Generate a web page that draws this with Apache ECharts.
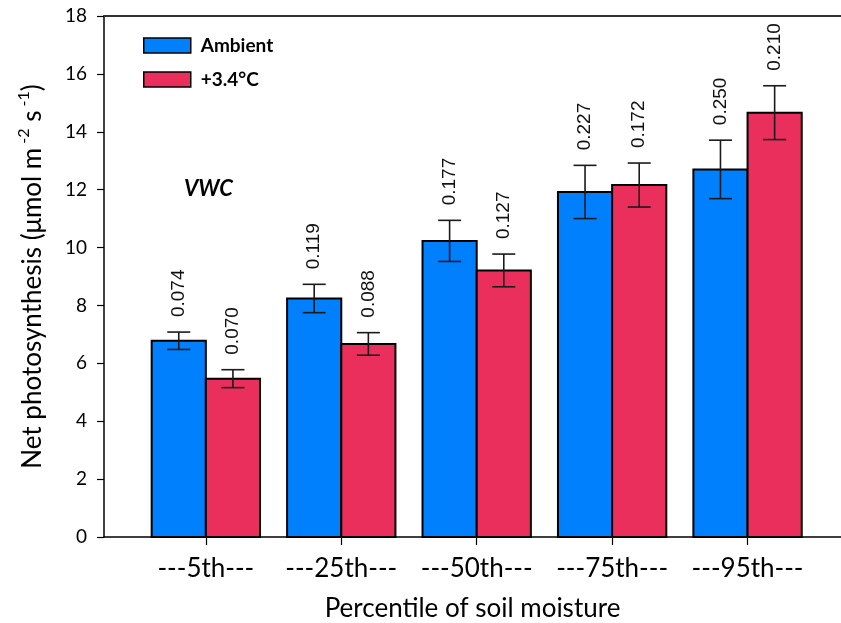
<!DOCTYPE html>
<html>
<head>
<meta charset="utf-8">
<script src="https://cdn.jsdelivr.net/npm/echarts@6/dist/echarts.min.js"></script>
<style>html,body{margin:0;padding:0;background:#fff;overflow:hidden}#c{width:841px;height:623px}</style>
</head>
<body>
<div id="c"></div>
<script>
const categories = ['---5th---', '---25th---', '---50th---', '---75th---', '---95th---'];
const seriesNames = ['Ambient', '+3.4°C'];
const ambient = [6.78, 8.24, 10.23, 11.92, 12.70];
const ambientErr = [0.30, 0.49, 0.71, 0.92, 1.01];
const warm = [5.47, 6.67, 9.21, 12.16, 14.66];
const warmErr = [0.31, 0.39, 0.565, 0.76, 0.93];
const ambientVWC = ['0.074', '0.119', '0.177', '0.227', '0.250'];
const warmVWC = ['0.070', '0.088', '0.127', '0.172', '0.210'];
const yTicks = [0, 2, 4, 6, 8, 10, 12, 14, 16, 18];

const BLUE = '#0180FE';
const RED = '#EB2F5D';
const BW = 0.4; // bar width in category units
const CALIBRI = 'Lato';

function makeRender(side, labels) {
  return function (params, api) {
    const i = api.value(0), v = api.value(1), e = api.value(2);
    const xL = side < 0 ? i - BW : i;
    const xR = side < 0 ? i : i + BW;
    const p0 = api.coord([xL, 0]);
    const p1 = api.coord([xR, v]);
    const cx = (p0[0] + p1[0]) / 2;
    const pTop = api.coord([i, v + e]);
    const pBot = api.coord([i, v - e]);
    const cap = 11.5;
    const errStyle = { stroke: '#1a1a1a', lineWidth: 1.6 };
    return {
      type: 'group',
      children: [
        { type: 'rect', shape: { x: p0[0], y: p1[1], width: p1[0] - p0[0], height: p0[1] - p1[1] },
          style: { fill: api.visual('color'), stroke: '#000', lineWidth: 2 } },
        { type: 'line', shape: { x1: cx, y1: pTop[1], x2: cx, y2: pBot[1] }, style: errStyle },
        { type: 'line', shape: { x1: cx - cap, y1: pTop[1], x2: cx + cap, y2: pTop[1] }, style: errStyle },
        { type: 'line', shape: { x1: cx - cap, y1: pBot[1], x2: cx + cap, y2: pBot[1] }, style: errStyle },
        { type: 'text', x: cx, y: pTop[1] - 15, rotation: Math.PI / 2,
          style: { text: labels[params.dataIndex], fill: '#111', fontSize: 19, fontFamily: 'Liberation Sans',
                   align: 'left', verticalAlign: 'middle' } }
      ]
    };
  };
}

const chart = echarts.init(document.getElementById('c'), null, { renderer: 'canvas', width: 841, height: 623 });
chart.setOption({
  animation: false,
  backgroundColor: '#fff',
  grid: { left: 104, width: 737, top: 16, height: 521, containLabel: false, outerBoundsMode: 'none' },
  legend: {
    orient: 'vertical', left: 143, top: 36, padding: 0, itemWidth: 47, itemHeight: 15, itemGap: 15,
    data: [{ name: seriesNames[0], icon: 'rect' }, { name: seriesNames[1], icon: 'rect' }],
    itemStyle: { borderColor: '#000', borderWidth: 1.5 },
    textStyle: { fontFamily: CALIBRI, fontWeight: 'bold', fontSize: 19, color: '#000', padding: [0, 0, 0, 5] }
  },
  graphic: [{
    type: 'text', left: 184, top: 178,
    style: { text: 'VWC', fontFamily: CALIBRI, fontWeight: 'bold', fontStyle: 'italic', fontSize: 22, fill: '#000' }
  }],
  xAxis: [{
    type: 'value', min: -0.752, max: 4.69,
    splitLine: { show: false },
    axisLine: { onZero: false, lineStyle: { color: '#000', width: 1.5 } },
    axisTick: { show: true, customValues: [0, 1, 2, 3, 4], length: 8, lineStyle: { color: '#000', width: 1.2 } },
    axisLabel: { customValues: [0, 1, 2, 3, 4], formatter: v => categories[Math.round(v)],
                 fontFamily: CALIBRI, fontSize: 26, color: '#000', margin: 19 },
    name: 'Percentile of soil moisture', nameLocation: 'middle', nameGap: 59, nameMoveOverlap: false,
    nameTextStyle: { fontFamily: CALIBRI, fontSize: 26, color: '#000' }
  }, {
    type: 'value', position: 'top', min: -0.752, max: 4.69,
    axisLine: { show: true, onZero: false, lineStyle: { color: '#333', width: 2 } },
    axisTick: { show: false }, axisLabel: { show: false }, splitLine: { show: false }
  }],
  yAxis: {
    type: 'value', min: 0, max: 18, interval: 2,
    splitLine: { show: false },
    axisLine: { show: true, onZero: false, lineStyle: { color: '#000', width: 1.5 } },
    axisTick: { show: true, inside: false, length: 7, lineStyle: { color: '#000', width: 1.2 } },
    axisLabel: { fontFamily: CALIBRI, fontSize: 19, color: '#000', margin: 17,
                 formatter: v => yTicks.includes(v) ? String(v) : '' },
    name: '{a|Net photosynthesis (μmol m}{s| -2}{a| s}{s| -1}{a|)}',
    nameLocation: 'middle', nameRotate: 90, nameGap: 58, nameMoveOverlap: false,
    nameTextStyle: {
      rich: {
        a: { fontFamily: CALIBRI, fontSize: 26, color: '#000', verticalAlign: 'bottom', lineHeight: 30 },
        s: { fontFamily: CALIBRI, fontSize: 16, color: '#000', verticalAlign: 'bottom', padding: [0, 0, 14, 0], lineHeight: 30 }
      }
    }
  },
  series: [
    { name: seriesNames[0], type: 'custom', itemStyle: { color: BLUE }, encode: { x: 0, y: 1 },
      renderItem: makeRender(-1, ambientVWC),
      data: ambient.map((v, i) => [i, v, ambientErr[i]]) },
    { name: seriesNames[1], type: 'custom', itemStyle: { color: RED }, encode: { x: 0, y: 1 },
      renderItem: makeRender(1, warmVWC),
      data: warm.map((v, i) => [i, v, warmErr[i]]) }
  ]
});
</script>
</body>
</html>
